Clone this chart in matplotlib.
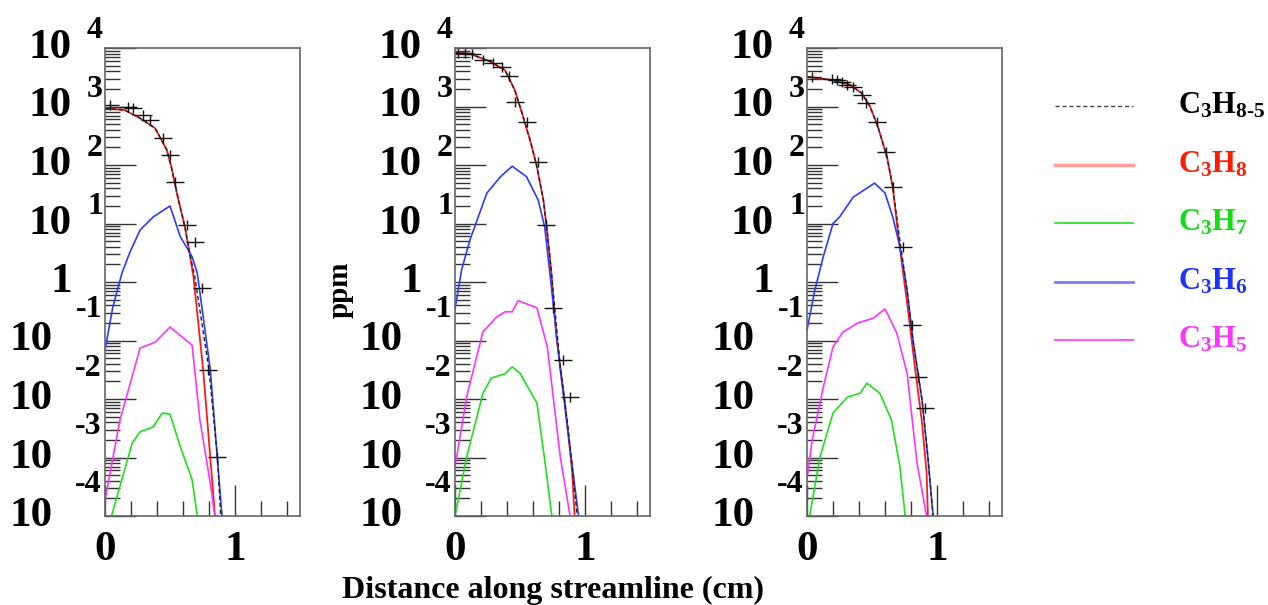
import numpy as np
import matplotlib.pyplot as plt

plt.rcParams['font.family'] = ['Liberation Serif', 'DejaVu Serif']
plt.rcParams['font.weight'] = 'bold'
plt.rcParams['mathtext.fontset'] = 'custom'
plt.rcParams['mathtext.rm'] = 'Liberation Serif:bold'
plt.rcParams['mathtext.it'] = 'Liberation Serif:bold'
plt.rcParams['mathtext.bf'] = 'Liberation Serif:bold'

# data: x in cm, y given as log10(ppm)
# panel 1
p1_c3h8_x = [0, 0.15, 0.27, 0.385, 0.475, 0.51, 0.56, 0.615, 0.65, 0.68, 0.755, 0.81, 0.846]
p1_c3h8_log = [2.97, 2.94, 2.80, 2.63, 2.26, 1.97, 1.45, 0.94, 0.50, 0.10, -1.5, -3.0, -4.0]
p1_sum_x = [0, 0.15, 0.27, 0.385, 0.475, 0.51, 0.56, 0.615, 0.65, 0.69, 0.8, 0.865, 0.89]
p1_sum_log = [2.97, 2.94, 2.80, 2.63, 2.26, 1.97, 1.45, 0.94, 0.50, 0.10, -1.5, -3.0, -4.0]
p1_meas_x = [0.04, 0.18, 0.215, 0.29, 0.35, 0.45, 0.5, 0.54, 0.63, 0.69, 0.745, 0.79, 0.86]
p1_meas_log = [3.03, 3.0, 2.97, 2.85, 2.77, 2.46, 2.17, 1.71, 0.97, 0.68, -0.1, -1.5, -2.99]
p1_c3h6_x = [0, 0.06, 0.13, 0.19, 0.27, 0.37, 0.5, 0.58, 0.64, 0.67, 0.71, 0.81, 0.9]
p1_c3h6_log = [-1.16, -0.43, 0.15, 0.5, 0.89, 1.11, 1.30, 0.77, 0.55, 0.43, 0.15, -1.5, -4.0]
p1_c3h5_x = [0, 0.115, 0.27, 0.385, 0.5, 0.67, 0.73, 0.81, 0.846]
p1_c3h5_log = [-3.73, -2.36, -1.13, -1.03, -0.77, -1.08, -2.36, -3.44, -4.02]
p1_c3h7_x = [0.05, 0.21, 0.27, 0.37, 0.44, 0.5, 0.58, 0.67, 0.71]
p1_c3h7_log = [-4.0, -2.75, -2.56, -2.48, -2.24, -2.26, -2.82, -3.38, -4.0]

# panel 2
p2_c3h8_x = [0, 0.115, 0.27, 0.385, 0.46, 0.515, 0.577, 0.63, 0.68, 0.71, 0.74, 0.78, 0.846, 0.9, 0.92]
p2_c3h8_log = [3.92, 3.9, 3.77, 3.62, 3.28, 2.89, 2.43, 1.97, 1.40, 0.84, 0.2, -0.94, -2.07, -3.21, -4.0]
p2_sum_x = [0, 0.115, 0.27, 0.385, 0.46, 0.515, 0.577, 0.63, 0.68, 0.71, 0.74, 0.81, 0.87, 0.94]
p2_sum_log = [3.92, 3.9, 3.77, 3.62, 3.28, 2.89, 2.43, 1.97, 1.40, 0.84, 0.2, -1.45, -2.5, -4.0]
p2_meas_x = [0.02, 0.077, 0.13, 0.215, 0.29, 0.36, 0.415, 0.46, 0.55, 0.635, 0.7, 0.75, 0.83, 0.885]
p2_meas_log = [3.91, 3.91, 3.9, 3.8, 3.74, 3.68, 3.52, 3.08, 2.74, 2.05, 0.97, -0.44, -1.33, -1.97]
p2_c3h6_x = [0, 0.05, 0.115, 0.245, 0.35, 0.44, 0.55, 0.64, 0.69, 0.73, 0.81, 0.95]
p2_c3h6_log = [-0.46, 0.2, 0.72, 1.52, 1.8, 1.98, 1.8, 1.4, 0.94, 0.15, -1.5, -4.0]
p2_c3h5_x = [0, 0.09, 0.215, 0.32, 0.385, 0.44, 0.485, 0.63, 0.71, 0.81, 0.885]
p2_c3h5_log = [-3.16, -1.96, -0.85, -0.6, -0.51, -0.51, -0.32, -0.44, -1.11, -2.99, -4.0]
p2_c3h7_x = [0, 0.09, 0.215, 0.28, 0.385, 0.44, 0.5, 0.63, 0.69, 0.745]
p2_c3h7_log = [-4.0, -2.99, -1.9, -1.64, -1.57, -1.45, -1.56, -2.07, -3.04, -4.0]

# panel 3
p3_c3h8_x = [0, 0.2, 0.33, 0.42, 0.485, 0.546, 0.615, 0.66, 0.7, 0.74, 0.78, 0.83, 0.885, 0.92, 0.93]
p3_c3h8_log = [3.51, 3.45, 3.37, 3.23, 3.0, 2.65, 2.14, 1.62, 0.84, 0.15, -0.53, -1.45, -2.41, -3.26, -4.0]
p3_sum_x = [0, 0.2, 0.33, 0.42, 0.485, 0.546, 0.615, 0.66, 0.715, 0.77, 0.815, 0.885, 0.93, 0.97]
p3_sum_log = [3.51, 3.45, 3.37, 3.23, 3.0, 2.65, 2.14, 1.62, 0.7, -0.14, -0.99, -2.02, -3.0, -4.0]
p3_meas_x = [0.04, 0.19, 0.23, 0.27, 0.31, 0.35, 0.42, 0.45, 0.54, 0.61, 0.66, 0.74, 0.81, 0.85, 0.91]
p3_meas_log = [3.5, 3.47, 3.45, 3.42, 3.37, 3.33, 3.2, 3.06, 2.74, 2.22, 1.62, 0.6, -0.73, -1.62, -2.15]
p3_c3h6_x = [0, 0.06, 0.125, 0.2, 0.25, 0.355, 0.52, 0.6, 0.66, 0.715, 0.77, 0.815, 0.885, 0.93, 0.97]
p3_c3h6_log = [-0.82, -0.14, 0.43, 1.0, 1.11, 1.45, 1.69, 1.52, 1.11, 0.6, -0.14, -0.99, -2.02, -3.0, -4.0]
p3_c3h5_x = [0, 0.04, 0.125, 0.2, 0.275, 0.39, 0.51, 0.6, 0.69, 0.77, 0.846, 0.92]
p3_c3h5_log = [-3.38, -2.7, -1.8, -1.11, -0.86, -0.7, -0.62, -0.46, -0.87, -1.56, -3.09, -4.0]
p3_c3h7_x = [0.02, 0.1, 0.2, 0.31, 0.41, 0.46, 0.56, 0.65, 0.715, 0.755]
p3_c3h7_log = [-4.0, -2.99, -2.24, -1.97, -1.9, -1.73, -1.9, -2.36, -3.16, -4.0]

decades = [-4, -3, -2, -1, 0, 1, 2, 3, 4]
x_ticklabels = ['0', '1']

legend_labels = [r'$\mathrm{C_3H_{8\text{-}5}}$', r'$\mathrm{C_3H_8}$', r'$\mathrm{C_3H_7}$',
                 r'$\mathrm{C_3H_6}$', r'$\mathrm{C_3H_5}$']

panels = [
    (p1_c3h8_x, p1_c3h8_log, p1_sum_x, p1_sum_log, p1_meas_x, p1_meas_log,
     p1_c3h6_x, p1_c3h6_log, p1_c3h5_x, p1_c3h5_log, p1_c3h7_x, p1_c3h7_log),
    (p2_c3h8_x, p2_c3h8_log, p2_sum_x, p2_sum_log, p2_meas_x, p2_meas_log,
     p2_c3h6_x, p2_c3h6_log, p2_c3h5_x, p2_c3h5_log, p2_c3h7_x, p2_c3h7_log),
    (p3_c3h8_x, p3_c3h8_log, p3_sum_x, p3_sum_log, p3_meas_x, p3_meas_log,
     p3_c3h6_x, p3_c3h6_log, p3_c3h5_x, p3_c3h5_log, p3_c3h7_x, p3_c3h7_log),
]

RED = '#ff1a1a'
GREEN = '#1ee01e'
BLUE = '#2a3cff'
MAGENTA = '#ff33ff'

W, H = 1268, 605
fig = plt.figure(figsize=(W / 100, H / 100), dpi=100)
lefts = [105, 455, 807]
pt = 0.72  # points per pixel

for left, data in zip(lefts, panels):
    (r_x, r_l, s_x, s_l, m_x, m_l, b_x, b_l, mg_x, mg_l, g_x, g_l) = data
    ax = fig.add_axes([left / W, 1 - 516 / H, 195 / W, 468 / H])
    pw = lambda v: np.power(10.0, v)
    ax.plot(r_x, pw(r_l), color=RED, lw=1.3)
    ax.plot(b_x, pw(b_l), color=BLUE, lw=1.2)
    ax.plot(mg_x, pw(mg_l), color=MAGENTA, lw=1.2)
    ax.plot(g_x, pw(g_l), color=GREEN, lw=1.2)
    ax.plot(s_x, pw(s_l), color='#222222', lw=1.0, ls=(0, (3, 2)))
    ax.plot(m_x, pw(m_l), ls='none', marker='_', ms=13, mew=1.0, color='#111111')
    ax.plot(m_x, pw(m_l), ls='none', marker='|', ms=7, mew=1.0, color='#111111')

    ax.set_yscale('log')
    ax.set_ylim(1e-4, 1e4)
    ax.set_xlim(0, 1.5)
    ax.set_yticks([10.0 ** e for e in decades])
    ax.yaxis.set_minor_locator(plt.matplotlib.ticker.LogLocator(base=10, subs=np.arange(2, 10), numticks=50))
    ax.yaxis.set_minor_formatter(plt.NullFormatter())
    ax.set_yticklabels([])
    ax.set_xticks([0, 1])
    ax.set_xticklabels(x_ticklabels, fontsize=31, fontweight='bold')
    ax.set_xticks(np.arange(0.2, 1.5, 0.2), minor=True)
    ax.tick_params(axis='both', which='major', direction='in', length=22, width=1.0,
                   color='#333333', top=False, right=False)
    ax.tick_params(axis='both', which='minor', direction='in', length=11, width=1.0,
                   color='#333333', top=False, right=False)
    ax.tick_params(axis='x', which='major', pad=11)
    for sp in ax.spines.values():
        sp.set_color('#666666')
        sp.set_linewidth(1.2)

    # ROOT-like decade labels
    for e in decades:
        y = 10.0 ** e
        if e == 0:
            ax.annotate('1', xy=(0, y), xycoords=('axes fraction', 'data'),
                        xytext=(-33 * pt, 0), textcoords='offset points',
                        ha='right', va='center', fontsize=31, fontweight='bold')
        elif e > 0:
            ax.annotate('10', xy=(0, y), xycoords=('axes fraction', 'data'),
                        xytext=(-33 * pt, 0), textcoords='offset points',
                        ha='right', va='center', fontsize=31, fontweight='bold')
            ax.annotate(str(e), xy=(0, y), xycoords=('axes fraction', 'data'),
                        xytext=(-2 * pt, 17 * pt), textcoords='offset points',
                        ha='right', va='center', fontsize=23, fontweight='bold')
        else:
            ax.annotate('10', xy=(0, y), xycoords=('axes fraction', 'data'),
                        xytext=(-52 * pt, 0), textcoords='offset points',
                        ha='right', va='center', fontsize=31, fontweight='bold')
            ax.annotate(str(e), xy=(0, y), xycoords=('axes fraction', 'data'),
                        xytext=(-3 * pt, 31 * pt), textcoords='offset points',
                        ha='right', va='center', fontsize=23, fontweight='bold')

fig.text(340 / W, 1 - 290 / H, 'ppm', rotation=90, ha='center', va='center',
         fontsize=21, fontweight='bold')
fig.text(553 / W, 1 - 590 / H, 'Distance along streamline (cm)', ha='center', va='center',
         fontsize=23, fontweight='bold')

# legend
leg_styles = [
    dict(color='#444444', lw=1.0, ls=(0, (3, 2))),
    dict(color='#ff9c9c', lw=2.5, ls='-'),
    dict(color='#22dd22', lw=1.2, ls='-'),
    dict(color='#7a7aff', lw=2.0, ls='-'),
    dict(color='#ff55ff', lw=1.5, ls='-'),
]
leg_text_colors = ['black', '#ff1a00', '#11dd11', '#1a33ff', '#ff33ff']
leg_rows = [106, 165, 223, 282, 340]
for lab, st, tc, ry in zip(legend_labels, leg_styles, leg_text_colors, leg_rows):
    fy = 1 - ry / H
    fig.add_artist(plt.Line2D([1055 / W, 1133 / W], [fy, fy], **st))
    fig.text(1178 / W, fy, lab, ha='left', va='center', fontsize=22, color=tc)

fig.savefig('out.png', dpi=100)
